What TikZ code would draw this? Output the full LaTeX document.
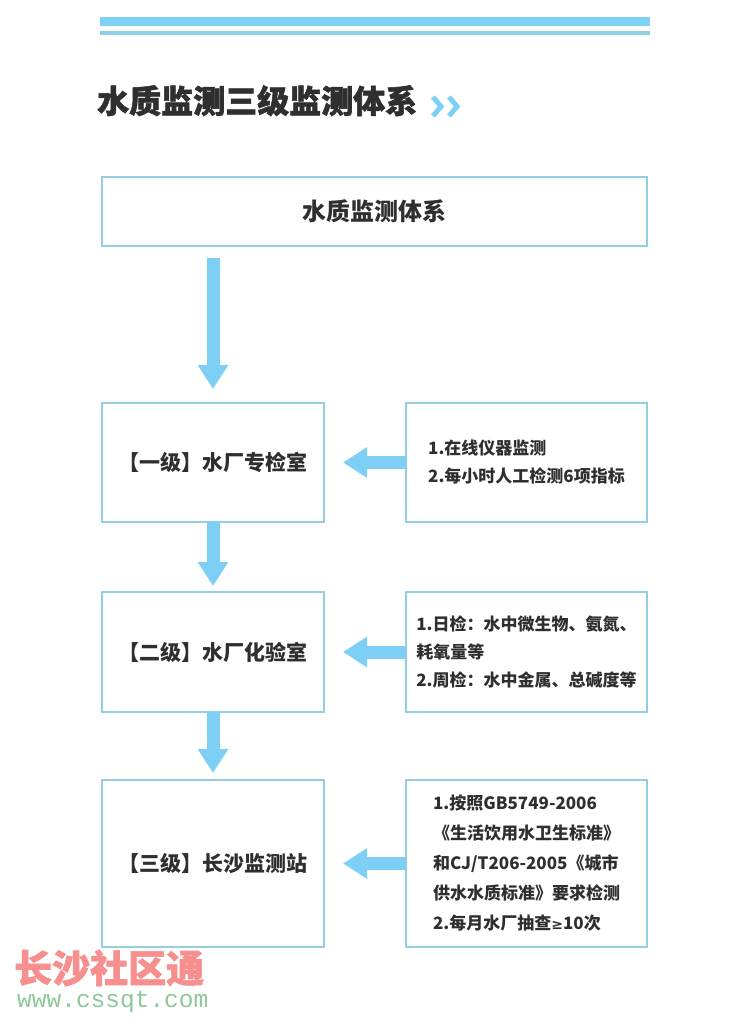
\documentclass[tikz,border=0pt]{standalone}
\usepackage{fontspec}
\usetikzlibrary{arrows.meta,positioning}
\newfontfamily\cjk{Noto Sans CJK SC}
\newfontfamily\cjkheavy{Noto Sans CJK SC}[BoldFeatures={FakeBold=1.6}]
\newfontfamily\symfont{DejaVu Sans}
\newfontfamily\wmfont{Liberation Mono}
\definecolor{barblue}{HTML}{7FD1F6}
\definecolor{thinblue}{HTML}{8ECFE5}
\definecolor{boxline}{HTML}{93CEE3}
\definecolor{arrowblue}{HTML}{7ECFF5}
\definecolor{textgray}{HTML}{2F2F2F}
\definecolor{wmred}{HTML}{F78F8F}
\definecolor{wmgreen}{HTML}{8DC79C}

\begin{document}
\begin{tikzpicture}[x=1pt,y=-1pt,
    box/.style={draw=boxline,line width=2pt,inner sep=0pt,outer sep=0pt,text=textgray,
      minimum width=222pt,font=\cjk\bfseries\fontsize{21}{25}\selectfont},
    info/.style={box,align=left,minimum width=241pt,font=\cjk\bfseries\fontsize{17}{28}\selectfont},
    flow/.style={draw=arrowblue,line width=13pt,-{Triangle[length=24pt,width=29pt,fill=arrowblue]}}]
  \useasboundingbox (0,0) rectangle (750,1024);
  % header
  \fill[barblue] (100,17) rectangle (650,26);
  \fill[thinblue] (100,31) rectangle (650,35);
  \node[anchor=base west,inner sep=0pt,text=textgray,font=\cjkheavy\bfseries\fontsize{32}{32}\selectfont]
    (title) at (97,113) {水质监测三级监测体系};
  \foreach \x in {433,449}
    \draw[arrowblue,line width=5pt] (\x,97) -- (\x+8,106.5) -- (\x,116);

  \node[box,minimum width=545pt,minimum height=69pt,font=\cjk\bfseries\fontsize{24}{28}\selectfont]
    (sys) at (374.5,211.5) {水质监测体系};
  \node[box,minimum height=119pt] (lvl1) at (213,462.5) {【一级】水厂专检室};
  \node[box,minimum height=120pt,below=70pt of lvl1] (lvl2) {【二级】水厂化验室};
  \node[box,minimum height=167pt,below=68pt of lvl2] (lvl3) {【三级】长沙监测站};

  \node[info,minimum height=119pt,right=82pt of lvl1] (chk1)
    {1.在线仪器监测\\2.每小时人工检测6项指标};
  \node[info,minimum height=120pt,right=82pt of lvl2] (chk2)
    {1.日检：水中微生物、氨氮、\\耗氧量等\\2.周检：水中金属、总碱度等};
  \node[info,minimum height=167pt,right=82pt of lvl3,font=\cjk\bfseries\fontsize{17}{30}\selectfont] (chk3)
    {1.按照GB5749-2006\\《生活饮用水卫生标准》\\和CJ/T206-2005《城市\\供水水质标准》要求检测\\2.每月水厂抽查{\symfont\bfseries\fontsize{14}{14}\selectfont ≥}10次};

  \draw[flow,shorten <=12pt,shorten >=14pt] (sys.south -| lvl1.north) -- (lvl1.north);
  \draw[flow,shorten >=6pt] (lvl1.south) -- (lvl2.north);
  \draw[flow,shorten >=7pt] (lvl2.south) -- (lvl3.north);
  \draw[flow,shorten >=19pt] (chk1.west) -- (lvl1.east);
  \draw[flow,shorten >=19pt] (chk2.west) -- (lvl2.east);
  \draw[flow,shorten >=19pt] (chk3.west) -- (lvl3.east);

  % watermark
  \node[anchor=west,inner sep=0pt,text=wmred,font=\cjkheavy\bfseries\fontsize{38}{38}\selectfont]
    (wm) at (14,968) {长沙社区通};
  \node[anchor=west,inner sep=0pt,text=wmgreen,font=\wmfont\fontsize{24.5}{24.5}\selectfont]
    (url) at (17,1002) {www.cssqt.com};
\end{tikzpicture}
\end{document}
